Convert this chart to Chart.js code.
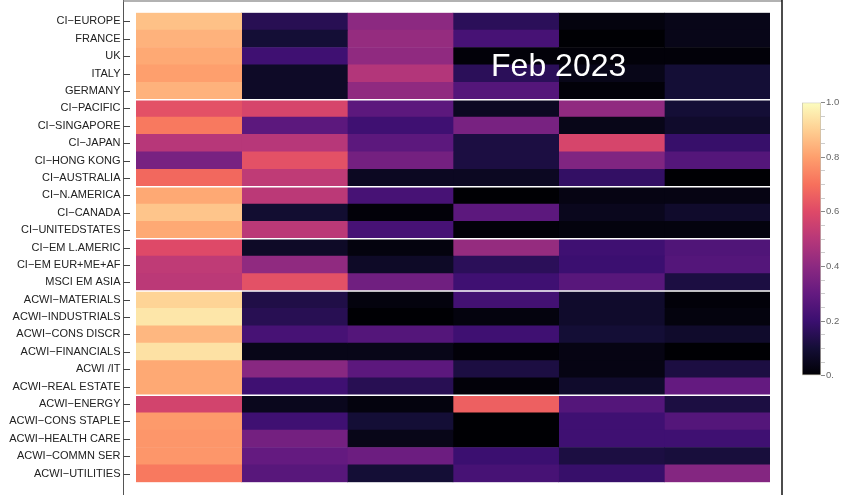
<!DOCTYPE html>
<html>
<head>
<meta charset="utf-8">
<script src="https://cdn.jsdelivr.net/npm/chart.js@4.4.1/dist/chart.umd.min.js"></script>
<style>
  body { margin: 0; background: #fff; }
  #wrap { position: relative; width: 843px; height: 495px; }
  #heat { position: absolute; left: 0; top: 0; }
  #bar { position: absolute; left: 790px; top: 90px; }
</style>
</head>
<body>
<div id="wrap">
  <canvas id="heat" width="843" height="495"></canvas>
  <canvas id="bar" width="53" height="300"></canvas>
</div>
<script>
// filas del heatmap (de arriba a abajo)
const rows = [
  'CI−EUROPE', 'FRANCE', 'UK', 'ITALY', 'GERMANY',
  'CI−PACIFIC', 'CI−SINGAPORE', 'CI−JAPAN', 'CI−HONG KONG', 'CI−AUSTRALIA',
  'CI−N.AMERICA', 'CI−CANADA', 'CI−UNITEDSTATES',
  'CI−EM L.AMERIC', 'CI−EM EUR+ME+AF', 'MSCI EM ASIA',
  'ACWI−MATERIALS', 'ACWI−INDUSTRIALS', 'ACWI−CONS DISCR', 'ACWI−FINANCIALS', 'ACWI /IT', 'ACWI−REAL ESTATE',
  'ACWI−ENERGY', 'ACWI−CONS STAPLE', 'ACWI−HEALTH CARE', 'ACWI−COMMN SER', 'ACWI−UTILITIES'
];

// valores por columna (0..1)
const col1 = [0.87, 0.84, 0.82, 0.80, 0.84, 0.62, 0.72, 0.50, 0.35, 0.68, 0.82, 0.88, 0.82, 0.60, 0.52, 0.51, 0.91, 0.95, 0.85, 0.94, 0.82, 0.82, 0.57, 0.79, 0.78, 0.78, 0.72];
const col2 = [0.15, 0.10, 0.21, 0.07, 0.07, 0.58, 0.28, 0.50, 0.62, 0.52, 0.51, 0.09, 0.51, 0.07, 0.41, 0.62, 0.13, 0.15, 0.23, 0.04, 0.39, 0.21, 0.05, 0.21, 0.34, 0.30, 0.27];
const col3 = [0.40, 0.42, 0.41, 0.49, 0.41, 0.28, 0.21, 0.28, 0.34, 0.06, 0.23, 0.01, 0.23, 0.02, 0.07, 0.33, 0.02, 0.00, 0.26, 0.04, 0.28, 0.15, 0.02, 0.10, 0.04, 0.32, 0.10];
const col4 = [0.16, 0.23, 0.01, 0.16, 0.26, 0.06, 0.35, 0.12, 0.12, 0.06, 0.00, 0.28, 0.01, 0.42, 0.16, 0.21, 0.22, 0.02, 0.21, 0.01, 0.12, 0.01, 0.66, 0.00, 0.00, 0.20, 0.23];
const col5 = [0.02, 0.00, 0.01, 0.04, 0.01, 0.41, 0.04, 0.58, 0.37, 0.18, 0.03, 0.05, 0.02, 0.21, 0.20, 0.27, 0.08, 0.08, 0.10, 0.03, 0.03, 0.08, 0.26, 0.21, 0.21, 0.12, 0.19];
const col6 = [0.04, 0.04, 0.01, 0.10, 0.10, 0.10, 0.08, 0.19, 0.26, 0.00, 0.03, 0.08, 0.02, 0.25, 0.26, 0.12, 0.01, 0.02, 0.08, 0.00, 0.12, 0.30, 0.12, 0.26, 0.21, 0.11, 0.38];
const columns = [col1, col2, col3, col4, col5, col6];

// separadores: linea blanca debajo de estas filas
const groupEnds = [4, 9, 12, 15, 21];

const dateLabel = 'Feb 2023';
const barTicks = [0, 0.2, 0.4, 0.6, 0.8, 1.0];
const barTickLabels = ['0.', '0.2', '0.4', '0.6', '0.8', '1.0'];

// paleta magma
const magmaStops = ['#000004', '#140e36', '#3b0f70', '#641a80', '#8c2981', '#b73779',
                    '#de4968', '#f7705c', '#fe9f6d', '#fecf92', '#fcfdbf'];

const hexToRgb = (h) => [1, 3, 5].map(i => parseInt(h.substr(i, 2), 16));

const magma = (v) => {
  const t = Math.max(0, Math.min(1, v)) * (magmaStops.length - 1);
  const i = Math.min(Math.floor(t), magmaStops.length - 2);
  const f = t - i;
  const a = hexToRgb(magmaStops[i]);
  const b = hexToRgb(magmaStops[i + 1]);
  const c = a.map((x, k) => Math.round(x + (b[k] - x) * f));
  return `rgb(${c[0]},${c[1]},${c[2]})`;
};

const FONT = '"Liberation Sans", Arial, sans-serif';

// marco, marcas y separadores
const framePlugin = {
  id: 'frame',
  afterDatasetsDraw(chart) {
    const { ctx, chartArea, scales } = chart;
    const y = scales.y;
    ctx.save();
    ctx.strokeStyle = '#ffffff';
    ctx.lineWidth = 1.5;
    groupEnds.forEach(i => {
      const py = (y.getPixelForValue(i) + y.getPixelForValue(i + 1)) / 2;
      ctx.beginPath();
      ctx.moveTo(chartArea.left, py);
      ctx.lineTo(chartArea.right, py);
      ctx.stroke();
    });

    // texto de la fecha
    const tx = scales.x.getPixelForValue(4);
    const ty = (y.getPixelForValue(2) + y.getPixelForValue(3)) / 2;
    ctx.fillStyle = '#ffffff';
    ctx.font = '32px ' + FONT;
    ctx.textAlign = 'center';
    ctx.textBaseline = 'alphabetic';
    ctx.fillText(dateLabel, tx, ty + 11.5);
    ctx.restore();
  },
  afterDraw(chart) {
    const { ctx, chartArea, scales } = chart;
    const left = chartArea.left - 12.5;
    const right = chartArea.right + 12;
    ctx.save();
    ctx.lineWidth = 1;
    ctx.strokeStyle = '#555';
    ctx.beginPath();
    ctx.moveTo(left, 0);
    ctx.lineTo(left, chart.height);
    ctx.stroke();
    ctx.strokeStyle = '#999';
    ctx.lineWidth = 1.5;
    ctx.beginPath();
    ctx.moveTo(left, 1);
    ctx.lineTo(right, 1);
    ctx.stroke();
    ctx.strokeStyle = '#111';
    ctx.lineWidth = 1.5;
    ctx.beginPath();
    ctx.moveTo(right, 0);
    ctx.lineTo(right, chart.height);
    ctx.stroke();
    // marcas del eje
    ctx.strokeStyle = '#444';
    ctx.lineWidth = 1;
    rows.forEach((_, i) => {
      const py = Math.round(scales.y.getPixelForValue(i)) + 0.5;
      ctx.beginPath();
      ctx.moveTo(left, py);
      ctx.lineTo(left + 6.5, py);
      ctx.stroke();
    });
    ctx.restore();
  }
};

new Chart(document.getElementById('heat'), {
  type: 'bar',
  data: {
    labels: rows,
    datasets: columns.map((vals, c) => ({
      data: vals.map(() => [c, c + 1]),
      backgroundColor: vals.map(magma),
      borderWidth: 0,
      barPercentage: 1,
      categoryPercentage: 1,
      grouped: false
    }))
  },
  options: {
    indexAxis: 'y',
    responsive: false,
    animation: false,
    layout: { padding: { top: 12.7, bottom: 12.7, right: 73, left: 0 } },
    plugins: { legend: { display: false }, tooltip: { enabled: false } },
    scales: {
      x: { type: 'linear', min: 0, max: 6, display: false },
      y: {
        type: 'category',
        grid: { display: false, drawTicks: false },
        border: { display: false },
        ticks: { color: '#222', font: { family: FONT, size: 11 }, padding: 15.5, autoSkip: false },
        afterFit: (s) => {
          s.width = 136;
          s.paddingTop = 0;
          s.paddingBottom = 0;
        }
      }
    }
  },
  plugins: [framePlugin]
});

// barra de colores
new Chart(document.getElementById('bar'), {
  type: 'bar',
  data: {
    labels: [''],
    datasets: [{
      data: [[0, 1]],
      backgroundColor: (ctx) => {
        const area = ctx.chart.chartArea;
        if (!area) return '#000';
        const g = ctx.chart.ctx.createLinearGradient(0, area.bottom, 0, area.top);
        magmaStops.forEach((s, i) => g.addColorStop(i / (magmaStops.length - 1), s));
        return g;
      },
      borderColor: 'rgba(120,110,80,0.45)',
      borderWidth: 1,
      borderSkipped: false,
      barPercentage: 1,
      categoryPercentage: 1
    }]
  },
  options: {
    responsive: false,
    animation: false,
    layout: { padding: { top: 12.5, bottom: 14.3, left: 12, right: 0 } },
    plugins: { legend: { display: false }, tooltip: { enabled: false } },
    scales: {
      x: { display: false },
      y: {
        position: 'right',
        min: 0, max: 1,
        border: { display: false },
        grid: {
          drawOnChartArea: false,
          tickLength: 4,
          color: (c) => (Math.round(c.tick.value * 20) % 4 === 0 ? '#888' : '#ccc')
        },
        ticks: {
          stepSize: 0.05,
          autoSkip: false,
          padding: 1,
          color: '#666',
          font: { family: FONT, size: 9.5 },
          callback: (v) => {
            const k = barTicks.findIndex(t => Math.abs(t - v) < 1e-6);
            return k >= 0 ? barTickLabels[k] : '';
          }
        },
        afterFit: (s) => { s.width = 22; }
      }
    }
  }
});
</script>
</body>
</html>
